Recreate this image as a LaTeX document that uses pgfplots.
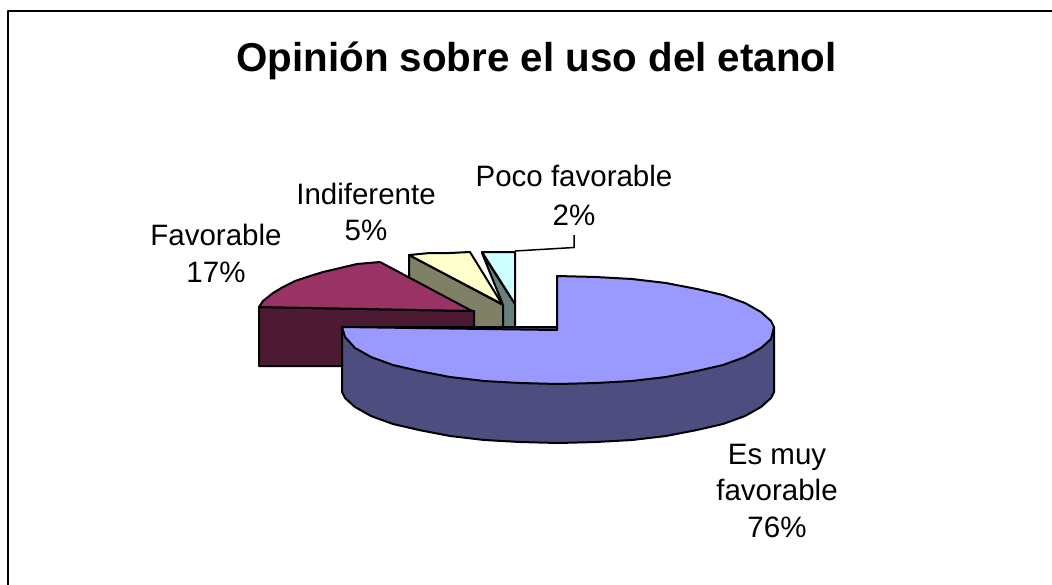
\documentclass[border=0pt]{standalone}
\usepackage{fontspec}
\setmainfont{Liberation Sans}
\usepackage{pgfplots}
\pgfplotsset{compat=1.18}
\definecolor{blueTop}{HTML}{9999FF}
\definecolor{blueSide}{HTML}{4D4D80}
\definecolor{purpTop}{HTML}{993366}
\definecolor{purpSide}{HTML}{4D1A33}
\definecolor{creamTop}{HTML}{FFFFCC}
\definecolor{creamSide}{HTML}{808066}
\definecolor{cyanTop}{HTML}{CCFFFF}
\definecolor{cyanSide}{HTML}{668080}
\begin{document}
\begin{tikzpicture}[line join=round]
\path[use as bounding box] (0,0) rectangle (1052pt,584pt);
\begin{axis}[at={(0,0)},anchor=south west,scale only axis,width=1052pt,height=584pt,
  xmin=0,xmax=1052,ymin=0,ymax=584,y dir=reverse,hide axis,clip=true]
% frame
\addplot[black,line width=2.6pt] coordinates {(8,590) (8,11) (1060,11)};
% leader
\addplot[black,line width=1.5pt] coordinates {(515,251) (574,247.5) (574,235)};
% cream side and top
\addplot[fill=creamSide,draw=black,line width=2pt] coordinates {(409,255) (503,305) (503,335) (409,335)} --cycle;
\addplot[fill=creamTop,draw=black,line width=2pt] coordinates {(409,255) (430,253) (450,253) (470,252) (502,304)} --cycle;
% cyan side and top
\addplot[fill=cyanSide,draw=black,line width=2pt] coordinates {(482,253) (515,304) (515,335) (503,335) (503,305)} --cycle;
\addplot[fill=cyanTop,draw=black,line width=2pt] coordinates {(482,252) (515,252) (515,304)} --cycle;
% purple side and top
\addplot[fill=purpSide,draw=black,line width=2pt] coordinates {(259,307) (474,311) (474,366) (259,366)} --cycle;
\addplot[fill=purpTop,draw=black,line width=2pt] coordinates {(259,307) (263,301) (273,293) (283,287) (295,281) (307,277) (323,272) (340,268) (357,264) (380,262) (472,311)} --cycle;
% blue side and top
\addplot[fill=blueSide,draw=black,line width=2pt] coordinates {(774,327) (774,392) (771,398) (761,407) (745,416) (723,424) (697,430) (666,436) (632,440) (596,442) (558,443) (520,442) (484,440) (450,436) (419,430) (393,424) (371,416) (355,407) (345,398) (342,392) (342,327)} --cycle;
\addplot[fill=blueTop,draw=black,line width=2pt] coordinates {(557,330) (557,276) (596,277) (632,279) (666,283) (697,289) (723,295) (745,303) (761,312) (771,321) (774,327) (771,339) (761,348) (745,357) (723,365) (697,371) (666,377) (632,381) (596,383) (558,384) (520,383) (484,381) (450,377) (419,371) (393,365) (371,357) (355,348) (345,337) (342,327)} --cycle;
% texts
\node[anchor=base,font=\fontsize{40.3}{40}\selectfont\bfseries] at (axis cs:536.5,71) {Opinión sobre el uso del etanol};
\def\lab{\fontsize{29.5}{29}\selectfont}
\node[anchor=base,font=\lab] at (axis cs:574,186) {Poco favorable};
\node[anchor=base,font=\lab] at (axis cs:574,225) {2\%};
\node[anchor=base,font=\lab] at (axis cs:366,204) {Indiferente};
\node[anchor=base,font=\lab] at (axis cs:366,240) {5\%};
\node[anchor=base,font=\lab] at (axis cs:216,245) {Favorable};
\node[anchor=base,font=\lab] at (axis cs:216,282) {17\%};
\node[anchor=base,font=\lab] at (axis cs:777,464) {Es muy};
\node[anchor=base,font=\lab] at (axis cs:777,500) {favorable};
\node[anchor=base,font=\lab] at (axis cs:777,537) {76\%};
\end{axis}
\end{tikzpicture}
\end{document}
